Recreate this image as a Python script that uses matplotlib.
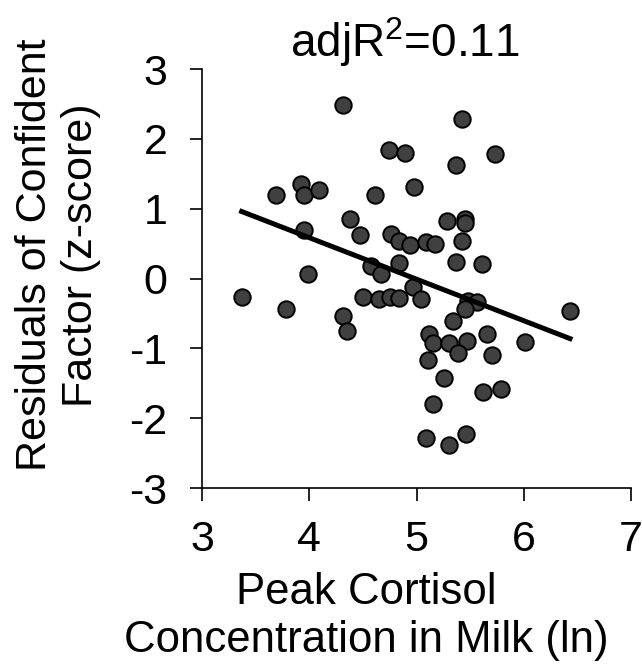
import numpy as np
import matplotlib
matplotlib.use("Agg")
import matplotlib.pyplot as plt

plt.rcParams['font.family'] = ['Liberation Sans', 'DejaVu Sans']
plt.rcParams['axes.unicode_minus'] = False

# peak cortisol (ln) vs residuals of confident factor (z-score)
cortisol = [4.31, 4.74, 4.89, 4.98, 3.92, 3.69, 3.95, 4.09, 4.61, 4.38,
            3.95, 4.47, 4.76, 4.84, 4.94, 4.84, 4.58, 4.67, 3.99, 5.42,
            5.37, 5.73, 5.28, 5.45, 5.455, 5.42, 5.085, 5.175, 5.37, 5.61,
            3.37, 3.78, 4.31, 4.35, 4.50, 4.65, 4.755, 4.84, 4.97, 5.04,
            5.48, 5.56, 5.45, 5.34, 6.43, 5.12, 5.15, 5.30, 5.47, 5.66,
            6.01, 5.39, 5.70, 5.11, 5.26, 5.62, 5.79, 5.15, 5.09, 5.30,
            5.46]
residuals = [2.48, 1.84, 1.80, 1.31, 1.35, 1.19, 1.19, 1.27, 1.19, 0.85,
             0.70, 0.63, 0.645, 0.535, 0.48, 0.22, 0.18, 0.06, 0.06, 2.28,
             1.62, 1.79, 0.83, 0.85, 0.80, 0.54, 0.52, 0.50, 0.24, 0.21,
             -0.27, -0.44, -0.53, -0.755, -0.27, -0.30, -0.27, -0.28, -0.12, -0.29,
             -0.32, -0.34, -0.43, -0.61, -0.46, -0.79, -0.92, -0.92, -0.89, -0.80,
             -0.91, -1.07, -1.09, -1.16, -1.42, -1.62, -1.58, -1.79, -2.29, -2.39,
             -2.23]

# fitted line
fit_x = [3.37, 6.43]
fit_y = [0.96, -0.86]

fig = plt.figure(figsize=(6.42, 6.64), dpi=100)
ax = fig.add_axes([0.3146, 0.265, 0.6685, 0.631])

ax.scatter(cortisol, residuals, s=140, c='#404040', edgecolors='black',
           linewidths=1.4, zorder=3)
ax.plot(fit_x, fit_y, color='black', lw=3.6, zorder=4)

ax.set_xlim(3, 7)
ax.set_ylim(-3, 3)
ax.set_xticks([3, 4, 5, 6, 7])
ax.set_yticks([-3, -2, -1, 0, 1, 2, 3])
ax.tick_params(labelsize=31, length=9, width=1.2)
ax.tick_params(axis='x', pad=14)
ax.tick_params(axis='y', pad=16)
ax.spines['top'].set_visible(False)
ax.spines['right'].set_visible(False)
ax.spines['left'].set_linewidth(1.2)
ax.spines['bottom'].set_linewidth(1.2)

ax.set_xlabel('Peak Cortisol\nConcentration in Milk (ln)', fontsize=31.5,
              linespacing=1.2, labelpad=9, x=0.382)
ax.set_ylabel('Residuals of Confident\nFactor (z-score)', fontsize=31,
              linespacing=1.2, labelpad=20, y=0.556)
ax.set_title(r'adjR$^\mathregular{2}$=0.11', fontsize=33, x=0.473, pad=6)

fig.savefig('out.png', dpi=100)
